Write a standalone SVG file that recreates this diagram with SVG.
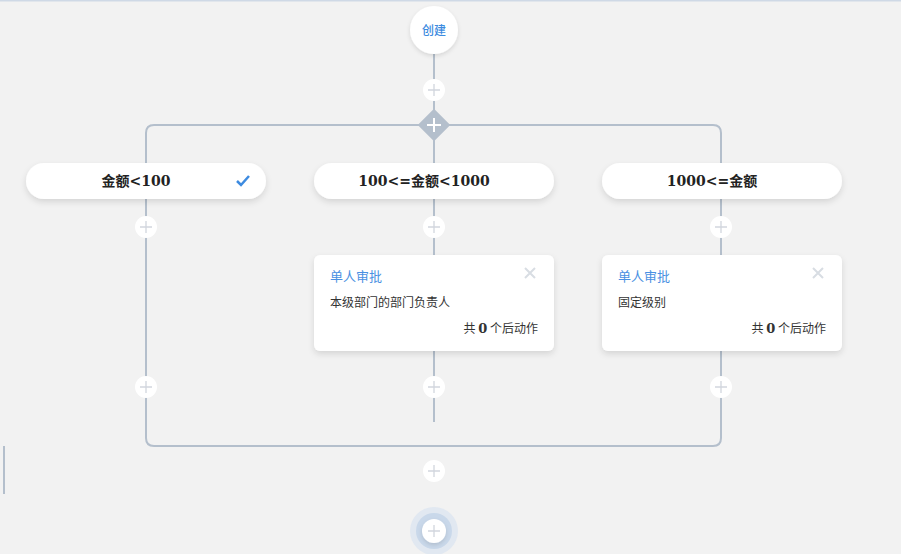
<svg xmlns="http://www.w3.org/2000/svg" width="901" height="554" viewBox="0 0 901 554">
<defs>
<filter id="sh" x="-20%" y="-40%" width="140%" height="190%"><feDropShadow dx="0" dy="3" stdDeviation="3" flood-color="#000" flood-opacity="0.12"/></filter>
<filter id="sh2" x="-50%" y="-50%" width="200%" height="200%"><feDropShadow dx="0" dy="2" stdDeviation="2" flood-color="#000" flood-opacity="0.12"/></filter>
<g id="plus"><circle r="11" fill="#fff"/><path d="M-6 0H6M0 -6V6" stroke="#d2d6de" stroke-width="1.3"/></g>
</defs>
<style>
.ln{fill:none;stroke:#b4bfcc;stroke-width:2}
.bt{font-family:"DejaVu Serif","Noto Sans CJK SC",serif;font-weight:bold;font-size:14px;fill:#222;text-anchor:middle}
.tt{font-family:"Noto Sans CJK SC",sans-serif;font-size:13px;fill:#4a90e2}
.ct{font-family:"Noto Sans CJK SC",sans-serif;font-size:12px;fill:#333}
.num{font-family:"DejaVu Serif",serif;font-weight:bold;font-size:13px}
.card{fill:#fff}
</style>
<rect width="901" height="554" fill="#f2f2f2"/>
<rect width="901" height="1.5" fill="#cfd9e6"/>
<g id="connectors">
<path class="ln" d="M434 54V125"/>
<path class="ln" d="M146 199V133Q146 125 154 125H713Q721 125 721 133V199"/>
<path class="ln" d="M434 125V163"/>
<path class="ln" d="M146 199V438Q146 446 154 446H713Q721 446 721 438V199"/>
<path class="ln" d="M434 199V255"/>
<path class="ln" d="M434 351V422"/>
<path class="ln" d="M4 446V494"/>
</g>
<g id="start">
<circle cx="434" cy="30" r="24" fill="#fff" filter="url(#sh2)"/>
<text x="434" y="34.5" font-family="Noto Sans CJK SC,sans-serif" font-size="12" font-weight="500" fill="#3d8be0" text-anchor="middle">创建</text>
</g>
<use href="#plus" x="434" y="90"/>
<g id="branch-add">
<rect x="422.5" y="113.5" width="23" height="23" fill="#b4bfcc" transform="rotate(45 434 125)"/>
<path d="M427 125H441M434 118V132" stroke="#fff" stroke-width="2"/>
</g>
<g id="cond1">
<rect class="card" x="26" y="163" width="240" height="36" rx="18" filter="url(#sh)"/>
<text class="bt" x="136" y="186">金额&lt;100</text>
<path d="M237 181L241 185L249 176" fill="none" stroke="#3d8be0" stroke-width="2.5"/>
</g>
<g id="cond2">
<rect class="card" x="314" y="163" width="240" height="36" rx="18" filter="url(#sh)"/>
<text class="bt" x="424" y="186">100&lt;=金额&lt;1000</text>
</g>
<g id="cond3">
<rect class="card" x="602" y="163" width="240" height="36" rx="18" filter="url(#sh)"/>
<text class="bt" x="712" y="186">1000&lt;=金额</text>
</g>
<use href="#plus" x="146" y="227"/>
<use href="#plus" x="434" y="227"/>
<use href="#plus" x="721" y="227"/>
<g id="approve1">
<rect class="card" x="314" y="255" width="240" height="96" rx="6" filter="url(#sh)"/>
<text class="tt" x="330" y="281">单人审批</text>
<path d="M525 268L535 278M535 268L525 278" stroke="#d8dde3" stroke-width="2"/>
<text class="ct" x="330" y="307">本级部门的部门负责人</text>
<text class="ct" x="538" y="333" text-anchor="end">共 <tspan class="num">0</tspan> 个后动作</text>
</g>
<g id="approve2">
<rect class="card" x="602" y="255" width="240" height="96" rx="6" filter="url(#sh)"/>
<text class="tt" x="618" y="281">单人审批</text>
<path d="M813 268L823 278M823 268L813 278" stroke="#d8dde3" stroke-width="2"/>
<text class="ct" x="618" y="307">固定级别</text>
<text class="ct" x="826" y="333" text-anchor="end">共 <tspan class="num">0</tspan> 个后动作</text>
</g>
<use href="#plus" x="146" y="387"/>
<use href="#plus" x="434" y="387"/>
<use href="#plus" x="721" y="387"/>
<use href="#plus" x="434" y="471"/>
<g id="end">
<circle cx="434" cy="531" r="24" fill="#e1e8f1"/>
<circle cx="434" cy="531" r="18" fill="#c9d8ea"/>
<circle cx="434" cy="531" r="12" fill="#fff" filter="url(#sh2)"/>
<path d="M428 531H440M434 525V537" stroke="#d2d6de" stroke-width="1.3"/>
</g>
</svg>
